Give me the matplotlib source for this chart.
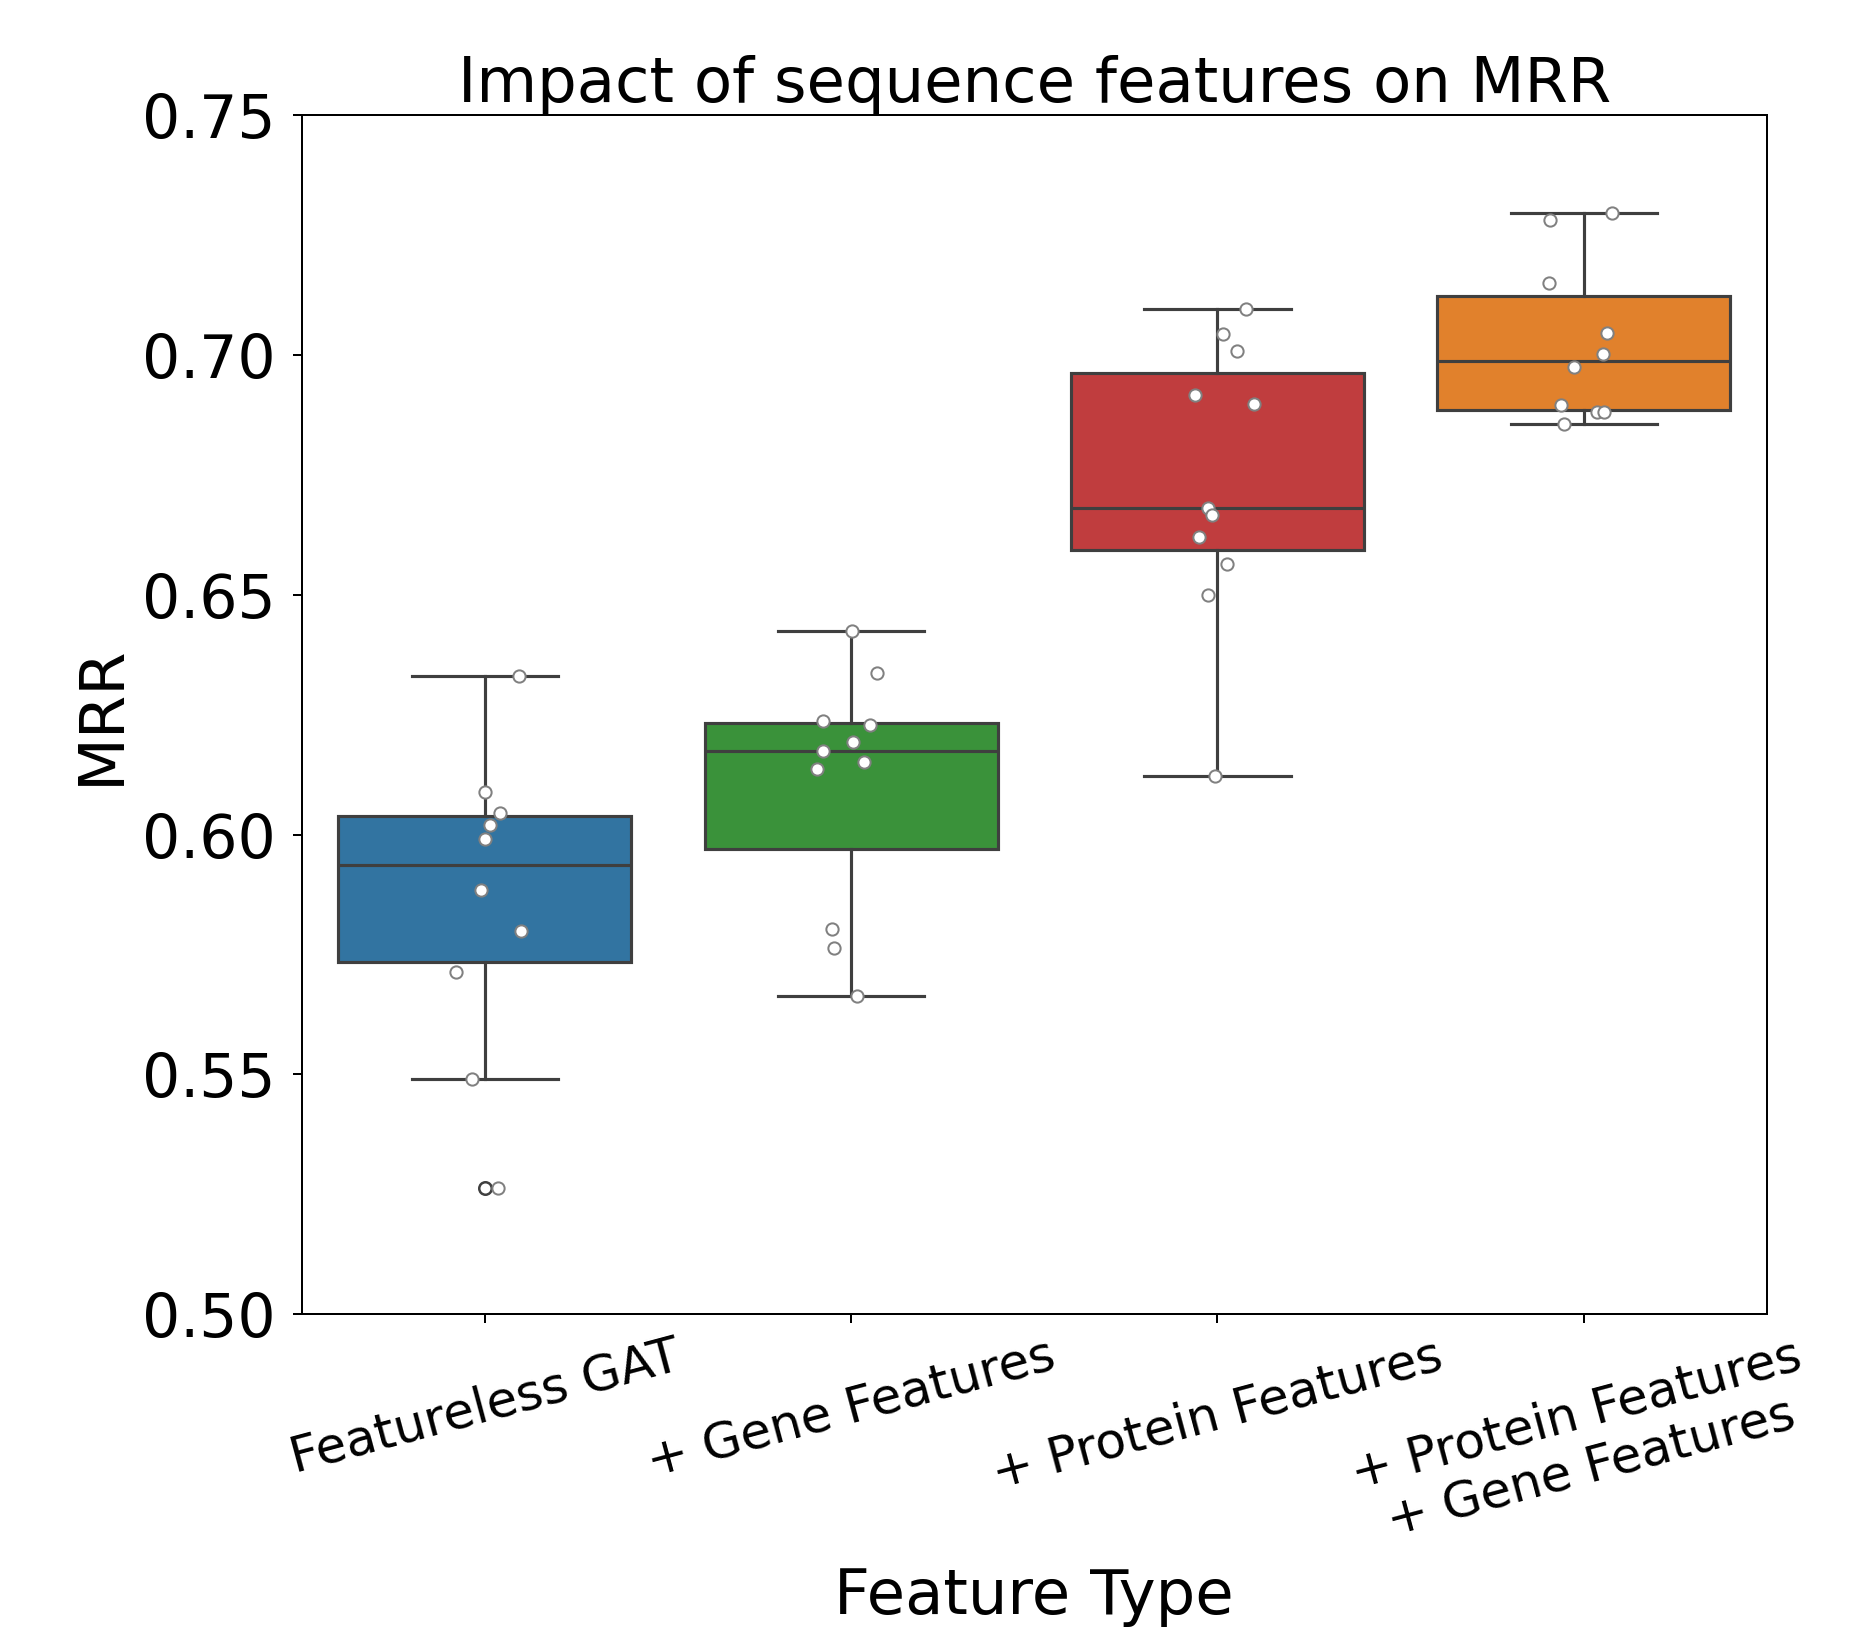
import numpy as np
import matplotlib
matplotlib.use("Agg")
import matplotlib.pyplot as plt

# MRR per run
labels = ["Featureless GAT", "+ Gene Features", "+ Protein Features",
          "+ Protein Features\n+ Gene Features"]

featureless = [0.6331, 0.6089, 0.6045, 0.6021, 0.5990, 0.5884, 0.5800, 0.5714, 0.5490, 0.5264]
gene = [0.6425, 0.6338, 0.6237, 0.6228, 0.6194, 0.6175, 0.6152, 0.6137, 0.5804, 0.5763, 0.5664]
protein = [0.7095, 0.7043, 0.7008, 0.6916, 0.6898, 0.6681, 0.6666, 0.6621, 0.6565, 0.6500, 0.6122]
both = [0.7296, 0.7281, 0.7149, 0.7046, 0.7001, 0.6974, 0.6895, 0.6881, 0.6881, 0.6857]

# horizontal jitter of the strip points (same order as the values)
jitter = [
    [0.094, 0.0, 0.040, 0.015, 0.0, -0.010, 0.098, -0.080, -0.036, 0.036],
    [0.002, 0.071, -0.078, 0.052, 0.006, -0.078, 0.036, -0.092, -0.053, -0.048, 0.017],
    [0.079, 0.015, 0.054, -0.061, 0.099, -0.026, -0.016, -0.050, 0.026, -0.026, -0.006],
    [0.077, -0.092, -0.095, 0.064, 0.052, -0.028, -0.061, 0.037, 0.054, -0.053],
]

groups = [featureless, gene, protein, both]
colors = ["#3274a1", "#3a923a", "#c03d3e", "#e1812c"]
line_c = "#3f3f3f"

fig = plt.figure(figsize=(1866 / 180, 1637 / 180), dpi=180)
ax = fig.add_axes([0.1617, 0.1971, 0.9469 - 0.1617, 0.9297 - 0.1971])

bp = ax.boxplot(groups, positions=range(len(groups)), widths=0.8, patch_artist=True,
                whis=1.5,
                boxprops=dict(linewidth=1.25, edgecolor=line_c),
                whiskerprops=dict(linewidth=1.25, color=line_c),
                capprops=dict(linewidth=1.25, color=line_c),
                medianprops=dict(linewidth=1.25, color=line_c),
                flierprops=dict(marker="o", markersize=5, markerfacecolor="none",
                                markeredgecolor=line_c, markeredgewidth=1.0))
for patch, c in zip(bp["boxes"], colors):
    patch.set_facecolor(c)

for i, (vals, jit) in enumerate(zip(groups, jitter)):
    ax.scatter(i + np.array(jit), vals, s=24, facecolor="white", edgecolor="gray",
               linewidth=0.8, zorder=3)

ax.set_xlim(-0.5, 3.5)
ax.set_ylim(0.5, 0.75)
ax.set_yticks(np.arange(0.50, 0.751, 0.05))
ax.set_yticklabels([f"{v:.2f}" for v in np.arange(0.50, 0.751, 0.05)])
ax.set_xticks(range(len(labels)))
ax.set_xticklabels(labels, rotation=15, fontsize=20)
ax.tick_params(axis="y", labelsize=24, pad=7)

ax.set_title("Impact of sequence features on MRR", fontsize=25, pad=3)
ax.set_xlabel("Feature Type", fontsize=25, labelpad=6)
ax.set_ylabel("MRR", fontsize=25, labelpad=4)

fig.savefig("out.png", dpi=180)
